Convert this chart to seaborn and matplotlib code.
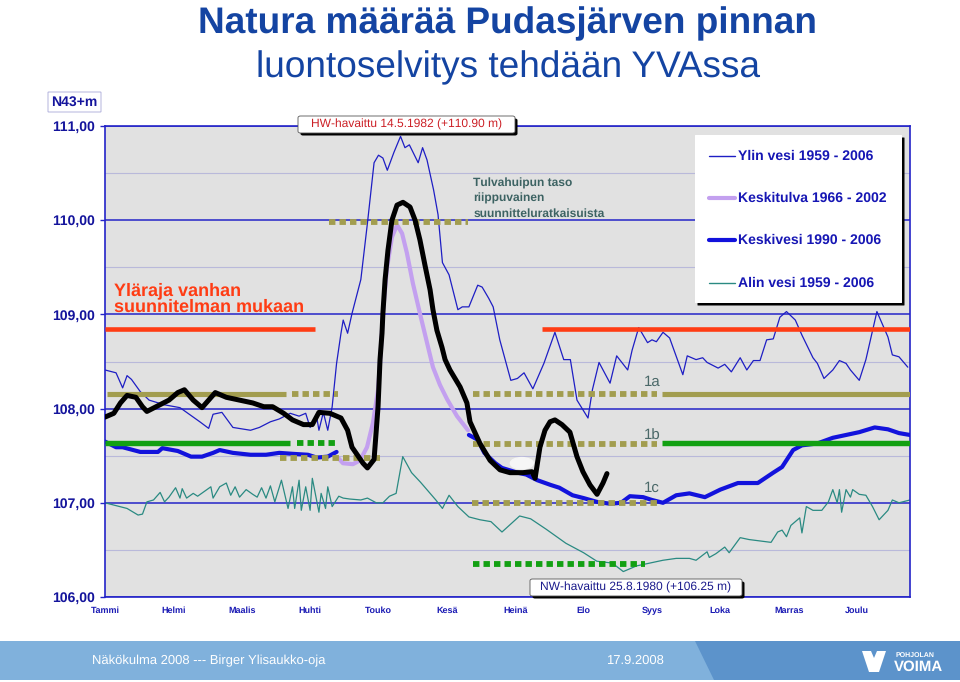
import matplotlib
matplotlib.use("Agg")
import matplotlib.pyplot as plt
from matplotlib.patches import Rectangle, FancyBboxPatch, Ellipse, Polygon
import seaborn as sns

# ------------------------------------------------------------
# Data: day of year (0-365) and water level (N43+m)
# ------------------------------------------------------------
MONTHS = ["Tammi", "Helmi", "Maalis", "Huhti", "Touko", "Kesä",
          "Heinä", "Elo", "Syys", "Loka", "Marras", "Joulu"]
MONTH_POS = [0, 31, 62, 93, 124, 155, 186, 217, 248, 279, 310, 341]
Y_TICKS = [106, 107, 108, 109, 110, 111]
Y_TICK_LABELS = ["106,00", "107,00", "108,00", "109,00", "110,00", "111,00"]

# Ylin vesi 1959 - 2006
YLIN_DAY = [0, 5, 8, 10, 12, 16, 20, 27, 34, 37, 43, 47, 49, 53, 58, 66, 70, 75, 79, 84,
            88, 91, 93, 96, 97, 99, 101, 103, 105, 107, 108, 110, 112, 116, 119, 122, 124, 126, 128, 131,
            134, 136, 138, 142, 144, 146, 149, 151, 153, 156, 160, 162, 165, 169, 171, 174, 176, 179, 184, 187,
            190, 194, 199, 204, 208, 211, 214, 219, 221, 224, 229, 232, 237, 239, 242, 246, 248, 250, 253, 256,
            262, 264, 268, 271, 273, 278, 281, 284, 288, 291, 294, 297, 300, 303, 306, 309, 313, 316, 321, 323,
            326, 330, 333, 336, 338, 342, 345, 350, 355, 357, 360, 364]
YLIN_LEVEL = [108.41, 108.38, 108.22, 108.35, 108.31, 108.18, 108.09, 108.04, 108.01, 107.96,
              107.86, 107.79, 107.94, 107.96, 107.80, 107.77, 107.80, 107.86, 107.89, 107.95,
              107.92, 107.95, 107.80, 107.91, 107.77, 107.96, 107.77, 108.02, 108.48, 108.80,
              108.94, 108.80, 109.01, 109.37, 109.97, 110.61, 110.69, 110.66, 110.53, 110.72,
              110.89, 110.77, 110.80, 110.61, 110.77, 110.64, 110.32, 110.06, 109.55, 109.42,
              109.05, 109.08, 109.08, 109.31, 109.29, 109.17, 109.08, 108.73, 108.30, 108.32,
              108.38, 108.21, 108.48, 108.81, 108.52, 108.52, 108.09, 107.90, 108.20, 108.49,
              108.27, 108.56, 108.41, 108.62, 108.86, 108.70, 108.73, 108.71, 108.81, 108.75,
              108.36, 108.56, 108.52, 108.54, 108.49, 108.43, 108.47, 108.39, 108.54, 108.41,
              108.51, 108.51, 108.73, 108.74, 108.97, 109.03, 108.94, 108.78, 108.54, 108.48,
              108.32, 108.41, 108.51, 108.48, 108.41, 108.30, 108.52, 109.03, 108.76, 108.57,
              108.55, 108.44]

# Alin vesi 1959 - 2006
ALIN_DAY = [0, 5, 10, 15, 17, 19, 22, 25, 27, 29, 32, 34, 35, 37, 40, 42, 48, 49, 52, 55,
            57, 59, 61, 64, 67, 69, 71, 73, 75, 77, 80, 83, 85, 86, 88, 89, 91, 93, 94, 97,
            98, 100, 101, 103, 106, 108, 111, 116, 119, 123, 126, 129, 132, 135, 139, 143, 150, 153, 156, 160,
            165, 170, 175, 180, 188, 193, 200, 209, 217, 223, 230, 235, 241, 247, 253, 259, 265, 268, 273, 274,
            277, 281, 283, 288, 292, 302, 305, 307, 309, 311, 313, 315, 316, 318, 321, 325, 328, 330, 332, 333,
            334, 336, 338, 339, 342, 345, 348, 351, 355, 357, 360, 365]
ALIN_LEVEL = [107.00, 106.97, 106.94, 106.87, 106.88, 107.01, 107.03, 107.11, 107.01, 107.06,
              107.16, 107.05, 107.15, 107.05, 107.10, 107.07, 107.17, 107.05, 107.17, 107.21,
              107.08, 107.17, 107.06, 107.14, 107.09, 107.06, 107.16, 107.05, 107.18, 107.01,
              107.24, 106.94, 107.17, 106.94, 107.24, 106.92, 107.17, 106.92, 107.26, 106.90,
              107.10, 106.94, 107.17, 106.96, 107.07, 107.05, 107.04, 107.03, 107.05, 107.00,
              107.00, 107.07, 107.10, 107.49, 107.32, 107.22, 107.03, 106.94, 107.08, 106.96,
              106.85, 106.82, 106.80, 106.69, 106.86, 106.83, 106.72, 106.57, 106.47, 106.38,
              106.36, 106.27, 106.33, 106.36, 106.39, 106.41, 106.41, 106.39, 106.48, 106.42,
              106.46, 106.53, 106.47, 106.63, 106.61, 106.58, 106.69, 106.71, 106.64, 106.76,
              106.80, 106.84, 106.68, 106.96, 106.92, 106.92, 107.01, 107.14, 107.00, 107.14,
              106.90, 107.14, 107.06, 107.14, 107.09, 107.08, 106.96, 106.82, 106.92, 107.03,
              107.00, 107.03]

# Keskivesi 1990 - 2006 (two visible parts)
KESKI1_DAY = [0, 5, 8, 16, 24, 26, 33, 39, 44, 49, 52, 58, 66, 73, 79, 85, 92, 96, 101, 105]
KESKI1_LEVEL = [107.65, 107.59, 107.59, 107.54, 107.54, 107.58, 107.55, 107.49, 107.49, 107.53,
                107.56, 107.53, 107.51, 107.51, 107.53, 107.52, 107.51, 107.48, 107.49, 107.54]
KESKI2_DAY = [165, 169, 172, 177, 180, 187, 191, 196, 202, 206, 212, 217, 223, 229, 234, 238, 244, 248,
              253, 259, 265, 272, 279, 287, 296, 303, 307, 312, 316, 323, 330, 336, 342, 349, 355, 360, 365]
KESKI2_LEVEL = [107.72, 107.67, 107.53, 107.42, 107.37, 107.32, 107.30, 107.24, 107.19, 107.16,
                107.08, 107.05, 107.01, 106.99, 107.00, 107.07, 107.06, 107.03, 107.00, 107.08,
                107.10, 107.06, 107.14, 107.21, 107.21, 107.32, 107.38, 107.56, 107.61, 107.63,
                107.69, 107.72, 107.75, 107.80, 107.78, 107.74, 107.72]

# Keskitulva 1966 - 2002
TULVA_DAY = [105.6, 107.9, 112.4, 115.6, 118.8, 121.5, 123.8, 125.1, 126.0, 127.9, 130.1,
             132.4, 134.7, 136.9, 139.6, 142.8, 146.0, 148.7, 151.9, 155.1, 159.6, 164.6]
TULVA_LEVEL = [107.48, 107.42, 107.41, 107.45, 107.59, 107.85, 108.20, 108.62, 109.01, 109.50, 109.82,
               109.95, 109.86, 109.65, 109.33, 109.01, 108.70, 108.44, 108.25, 108.10, 107.92, 107.77]

# Hand-drawn black curve
MUSTA_DAY = [0, 4, 7, 10, 14, 17, 19, 24, 29, 33, 36, 40, 44, 47, 50, 55, 61, 67, 72, 76,
             81, 85, 90, 94, 97, 102, 107, 110, 112, 117, 119, 122,
             123.8, 124.7, 125.6, 126.0, 127.0, 128.3, 130.1, 132.4, 135.1, 138.3, 140.6, 142.8,
             145.1, 147.4, 148.7, 150.5, 152.8, 154.2, 156.4, 161.0, 164.1, 165.5, 170.0, 174.6,
             179.1, 183.6, 189.5, 193.6, 195.0, 197.2, 199.5, 201.8, 204.0, 207.2, 210.8, 214.0,
             216.7, 219.9, 223.1, 225.8, 227.6]
MUSTA_LEVEL = [107.91, 107.95, 108.06, 108.14, 108.12, 108.02, 107.97, 108.03, 108.09, 108.17,
               108.20, 108.09, 108.01, 108.09, 108.17, 108.12, 108.09, 108.06, 108.02, 108.02,
               107.95, 107.88, 107.83, 107.83, 107.96, 107.95, 107.90, 107.77, 107.59, 107.42,
               107.37, 107.46,
               108.02, 108.52, 108.80, 109.01, 109.37, 109.68, 110.00, 110.16, 110.19, 110.14,
               110.00, 109.79, 109.52, 109.26, 109.05, 108.83, 108.65, 108.52, 108.41, 108.23,
               108.06, 107.86, 107.63, 107.45, 107.35, 107.32, 107.32, 107.33, 107.26, 107.59,
               107.77, 107.86, 107.88, 107.83, 107.75, 107.49, 107.33, 107.19, 107.09, 107.21,
               107.31]

# Reference levels (level, [(start_day, end_day), ...])
YLARAJA_LEVEL = 108.84
YLARAJA_SPANS = [(0, 95), (198, 365)]
LEVEL_1A = 108.15
SOLID_1A = [(1, 82), (252.5, 365)]
DOTS_1A = [(85, 105.6), (167, 250.3)]
LEVEL_1B = 107.63
SOLID_1B = [(0, 84), (252.5, 365)]
GREEN_DOTS_1B = [(87, 105.2)]
OLIVE_DOTS_1B = [(167, 250.3)]
LEVEL_TULVA = 109.98
DOTS_TULVA = [(101.6, 164.6)]
LEVEL_MID = 107.48
DOTS_MID = [(79.3, 124.7)]
LEVEL_1C = 107.0
DOTS_1C = [(166.4, 250.3)]
LEVEL_LOW = 106.35
DOTS_LOW = [(166.9, 244.8)]

# ------------------------------------------------------------
# Colours
# ------------------------------------------------------------
BG = "#e1e1e1"
AXIS_C = "#2424c8"
MINOR_C = "#b9b9da"
NAVY = "#14149c"
TITLE_C = "#1444a2"
YLIN_C = "#1e1ec4"
ALIN_C = "#2a8a82"
KESKI_C = "#1212dc"
TULVA_C = "#c3a0ef"
OLIVE = "#a29d4f"
GREEN = "#12a012"
RED = "#ff3c14"
GREYTEAL = "#4a6868"

sns.set_style("white")
plt.rcParams["font.family"] = ["Liberation Sans", "DejaVu Sans"]
plt.rcParams["text.hinting"] = "no_hinting"
plt.rcParams["text.hinting_factor"] = 1

W, H = 960, 682
fig = plt.figure(figsize=(W / 100, H / 100), dpi=100)


def fx(px):
    return px / W


def fy(py):
    return 1 - py / H


ax = fig.add_axes([fx(105), fy(597), 805 / W, 471 / H])
ax.set_facecolor(BG)
ax.set_xlim(0, 365)
ax.set_ylim(106, 111)

# grid
for lv in [106.5, 107.5, 108.5, 109.5, 110.5]:
    ax.axhline(lv, color=MINOR_C, lw=0.8, zorder=0.5)
for lv in Y_TICKS:
    ax.axhline(lv, color=AXIS_C, lw=1.1, zorder=0.6)

# measured series
sns.lineplot(x=YLIN_DAY, y=YLIN_LEVEL, ax=ax, color=YLIN_C, linewidth=0.9,
             sort=False, estimator=None, errorbar=None, zorder=2)
sns.lineplot(x=ALIN_DAY, y=ALIN_LEVEL, ax=ax, color=ALIN_C, linewidth=0.9,
             sort=False, estimator=None, errorbar=None, zorder=2)
for d, v in [(KESKI1_DAY, KESKI1_LEVEL), (KESKI2_DAY, KESKI2_LEVEL)]:
    sns.lineplot(x=d, y=v, ax=ax, color=KESKI_C, linewidth=3.0,
                 sort=False, estimator=None, errorbar=None, zorder=3)
sns.lineplot(x=TULVA_DAY, y=TULVA_LEVEL, ax=ax, color=TULVA_C, linewidth=3.0,
             sort=False, estimator=None, errorbar=None, zorder=3)

DOT = (0, (1.1, 0.7))


def segments(level, spans, color, lw, ls="-", z=4):
    for a, b in spans:
        ax.plot([a, b], [level, level], color=color, lw=lw, ls=ls,
                solid_capstyle="butt", dash_capstyle="butt", zorder=z)


segments(YLARAJA_LEVEL, YLARAJA_SPANS, RED, 3.3)
segments(LEVEL_1A, SOLID_1A, OLIVE, 3.7)
segments(LEVEL_1A, DOTS_1A, OLIVE, 4.2, DOT)
segments(LEVEL_1B, SOLID_1B, GREEN, 3.9)
segments(LEVEL_1B, GREEN_DOTS_1B, GREEN, 4.2, DOT)
segments(LEVEL_1B - 0.01, OLIVE_DOTS_1B, OLIVE, 4.2, DOT)
segments(LEVEL_TULVA, DOTS_TULVA, OLIVE, 4.2, DOT)
segments(LEVEL_MID, DOTS_MID, OLIVE, 4.2, DOT)
segments(LEVEL_1C, DOTS_1C, OLIVE, 4.2, DOT)
segments(LEVEL_LOW, DOTS_LOW, GREEN, 4.2, DOT)

sns.lineplot(x=MUSTA_DAY, y=MUSTA_LEVEL, ax=ax, color="black", linewidth=3.6,
             sort=False, estimator=None, errorbar=None, zorder=5)
ax.add_patch(Ellipse((189, 107.42), 10.4, 0.12, color="#f6f6f6", zorder=6))

# axes styling
for s in ax.spines.values():
    s.set_color(AXIS_C)
    s.set_linewidth(1.2)
ax.set_yticks(Y_TICKS)
ax.set_yticklabels(Y_TICK_LABELS)
ax.set_xticks(MONTH_POS)
ax.set_xticklabels(MONTHS)
ax.tick_params(axis="y", length=3.6, width=1, color=AXIS_C, pad=4, labelsize=10,
               labelcolor=NAVY, left=True)
ax.tick_params(axis="x", length=0, pad=7, labelsize=6.6, labelcolor="#1a1ab4", bottom=True)
for t in ax.get_yticklabels() + ax.get_xticklabels():
    t.set_fontweight("bold")
ax.set_xlabel("")
ax.set_ylabel("")

# in-plot texts
ax.text(244.4, 108.28, "1a", fontsize=11, color=GREYTEAL, va="center", ha="left", zorder=7)
ax.text(244.4, 107.71, "1b", fontsize=11, color=GREYTEAL, va="center", ha="left", zorder=7)
ax.text(244.4, 107.16, "1c", fontsize=11, color=GREYTEAL, va="center", ha="left", zorder=7)
ax.text(4.1, 109.20, "Yläraja vanhan", fontsize=13, fontweight="bold", color=RED, zorder=7)
ax.text(4.1, 109.03, "suunnitelman mukaan", fontsize=13, fontweight="bold", color=RED, zorder=7)
for lv, line in zip([110.36, 110.20, 110.04],
                    ["Tulvahuipun taso", "riippuvainen", "suunnitteluratkaisuista"]):
    ax.text(166.9, lv, line, fontsize=8.3, fontweight="bold", color="#3d6363", zorder=7)


# figure-level decorations (pixel positions)
def box(x0, y0, x1, y1, face, edge="#555555", shadow=True, z=10, r=2.5):
    if shadow:
        fig.patches.append(FancyBboxPatch((fx(x0 + 2.5), fy(y1 + 2.5)), fx(x1 - x0), (y1 - y0) / H,
                                          boxstyle=f"round,pad=0,rounding_size={r / W}",
                                          transform=fig.transFigure, facecolor="black",
                                          edgecolor="none", zorder=z))
    fig.patches.append(FancyBboxPatch((fx(x0), fy(y1)), fx(x1 - x0), (y1 - y0) / H,
                                      boxstyle=f"round,pad=0,rounding_size={r / W}",
                                      transform=fig.transFigure, facecolor=face,
                                      edgecolor=edge, lw=0.6, zorder=z + 0.1))


# legend
box(695, 135, 902, 303, "white", edge="none", r=0.5)
legend_rows = [("Ylin vesi 1959 - 2006", YLIN_C, 1.0, 156),
               ("Keskitulva 1966 - 2002", TULVA_C, 3.0, 198),
               ("Keskivesi 1990 - 2006", KESKI_C, 3.0, 240),
               ("Alin vesi 1959 - 2006", ALIN_C, 1.0, 283)]
for label, c, lw, py in legend_rows:
    fig.add_artist(plt.Line2D([fx(709), fx(735)], [fy(py), fy(py)], color=c, lw=lw,
                              transform=fig.transFigure, zorder=12))
    fig.text(fx(738), fy(py), label, fontsize=10, fontweight="bold", color="#1616b4",
             va="center", ha="left", zorder=12)

# HW / NW notes
box(298, 116, 515, 133, "white")
fig.text(fx(406.5), fy(124.5), "HW-havaittu 14.5.1982 (+110.90 m)", fontsize=8.4,
         color="#cc2026", ha="center", va="center", zorder=12)
box(530, 579, 742, 596, "white")
fig.text(fx(636), fy(587.5), "NW-havaittu 25.8.1980 (+106.25 m)", fontsize=8.4,
         color="#1a1a8c", ha="center", va="center", zorder=12)

# unit box
box(48, 92, 101, 112, "white", edge="#a8a8d8", shadow=False, r=0.5)
fig.text(fx(74.5), fy(102), "N43+m", fontsize=10, fontweight="bold", color=NAVY,
         ha="center", va="center", zorder=12)

# titles
fig.text(fx(507.5), fy(33), "Natura määrää Pudasjärven pinnan", fontsize=26.7,
         fontweight="bold", color=TITLE_C, ha="center", va="baseline")
fig.text(fx(508), fy(77), "luontoselvitys tehdään YVAssa", fontsize=26.7,
         color=TITLE_C, ha="center", va="baseline")

# footer band
fig.patches.append(Rectangle((0, fy(680)), 1, 39 / H, transform=fig.transFigure,
                             facecolor="#80b1dc", edgecolor="none", zorder=1))
fig.patches.append(Polygon([(fx(695), fy(641)), (1, fy(641)), (1, fy(680)), (fx(714), fy(680))],
                           closed=True, transform=fig.transFigure, facecolor="#5c93cb",
                           edgecolor="none", zorder=1.1))
fig.text(fx(92), fy(661), "Näkökulma 2008 --- Birger Ylisaukko-oja", fontsize=9.5,
         color="white", ha="left", va="center")
fig.text(fx(635), fy(661), "17.9.2008", fontsize=9.5, color="white", ha="center", va="center")
fig.patches.append(Polygon([(fx(862), fy(651)), (fx(871), fy(651)), (fx(874), fy(658)),
                            (fx(877), fy(651)), (fx(886), fy(651)), (fx(879), fy(672)),
                            (fx(869), fy(672))],
                           closed=True, transform=fig.transFigure, facecolor="white",
                           edgecolor="none", zorder=2))
fig.text(fx(896), fy(655), "POHJOLAN", fontsize=5, fontweight="bold", color="white",
         ha="left", va="center")
fig.text(fx(894), fy(667), "VOIMA", fontsize=11, fontweight="bold", color="white",
         ha="left", va="center")

fig.savefig("out.png", dpi=100, facecolor="white")
